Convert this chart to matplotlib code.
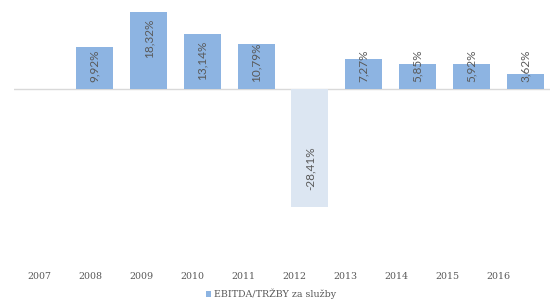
import matplotlib
matplotlib.use("Agg")
import matplotlib.pyplot as plt
from matplotlib.patches import Patch

years = ["2007", "2008", "2009", "2010", "2011", "2012", "2013", "2014", "2015", "2016"]
values = [None, 9.92, 18.32, 13.14, 10.79, -28.41, 7.27, 5.85, 5.92, 3.62]
labels = ["", "9,92%", "18,32%", "13,14%", "10,79%", "-28,41%", "7,27%", "5,85%", "5,92%", "3,62%"]
series_name = "EBITDA/TRŽBY za služby"

POS_COLOR = "#8DB4E2"
NEG_COLOR = "#DCE6F2"
TEXT_COLOR = "#595959"

W, H = 550, 300
fig = plt.figure(figsize=(W / 100, H / 100), dpi=100)
ax = fig.add_axes([14 / W, 1 - 250 / H, 538 / W, 245 / H])

xs = list(range(len(years)))
for x, v, lab in zip(xs, values, labels):
    if v is None:
        continue
    color = POS_COLOR if v >= 0 else NEG_COLOR
    ax.bar(x, v, width=0.69, color=color, zorder=2)
    if v >= 0:
        top = v - 1.6
        if top - 8.2 < 1.5:
            ax.text(x, 1.6, lab, rotation=90, ha="center", va="bottom",
                    fontsize=8.5, color=TEXT_COLOR, family="Lato", zorder=3)
        else:
            ax.text(x, top, lab, rotation=90, ha="center", va="top",
                    fontsize=8.5, color=TEXT_COLOR, family="Lato", zorder=3)
    else:
        ax.text(x, v + 4.2, lab, rotation=90, ha="center", va="bottom",
                fontsize=8.5, color=TEXT_COLOR, family="Lato", zorder=3)

ax.axhline(0, color="#D9D9D9", linewidth=1.0, zorder=1)
ax.set_xlim(-0.5, 9.5)
ax.set_ylim(-38.6, 20.1)
ax.set_yticks([])
ax.set_xticks([])
for s in ax.spines.values():
    s.set_visible(False)

ax2 = ax.twiny()
ax2.set_xlim(-0.5, -0.5 + 538 / 51)
ax2.xaxis.set_ticks_position("bottom")
ax2.xaxis.set_label_position("bottom")
ax2.set_xticks(xs)
ax2.set_xticklabels(years, family="DejaVu Serif", fontsize=6.8, color=TEXT_COLOR)
ax2.tick_params(axis="x", length=0, pad=15.5)
for s in ax2.spines.values():
    s.set_visible(False)

handle = Patch(facecolor=POS_COLOR, edgecolor="none")
fig.legend([handle], [series_name], loc="center", bbox_to_anchor=(271 / W, 1 - 294 / H),
           frameon=False, handlelength=0.6, handleheight=0.6, handletextpad=0.3,
           borderpad=0.1, prop={"family": "DejaVu Serif", "size": 6.8}, labelcolor=TEXT_COLOR)

fig.savefig("out.png", dpi=100)
